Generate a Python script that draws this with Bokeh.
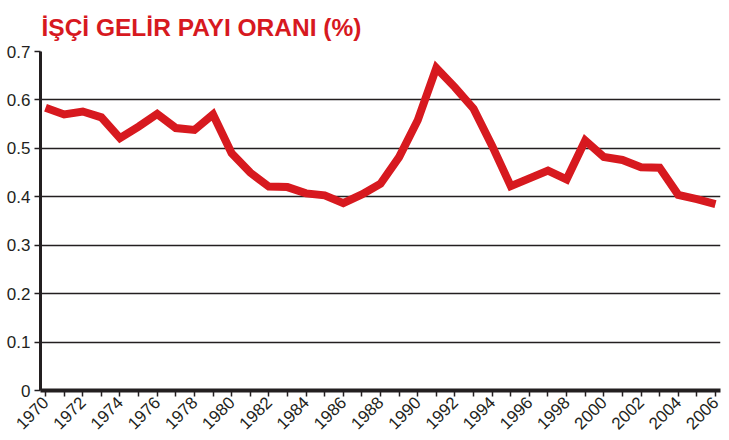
from bokeh.plotting import figure
from bokeh.models import FixedTicker, Range1d
from bokeh.embed import file_html
from bokeh.resources import INLINE
import math

# ---- data ----
years = list(range(1970, 2007))
share = [0.584, 0.570, 0.576, 0.564, 0.521, 0.545, 0.571, 0.542, 0.538, 0.570,
         0.490, 0.450, 0.421, 0.420, 0.407, 0.403, 0.387, 0.405, 0.427, 0.482,
         0.558, 0.666, 0.626, 0.582, 0.505, 0.422, 0.438, 0.454, 0.436, 0.516,
         0.482, 0.476, 0.461, 0.460, 0.404, 0.395, 0.385]
x_label_years = list(range(1970, 2007, 2))
x_minor_years = list(range(1971, 2007, 2))
y_ticks = [0, 0.1, 0.2, 0.3, 0.4, 0.5, 0.6, 0.7]
y_labels = ["0", "0.1", "0.2", "0.3", "0.4", "0.5", "0.6", "0.7"]
title_text = "İŞÇİ GELİR PAYI ORANI (%)"

RED = "#d7191f"
INK = "#231f20"
FONT = "Liberation Sans"

p = figure(width=721, height=437,
           min_border_left=40, min_border_right=1,
           min_border_top=51, min_border_bottom=47,
           x_range=Range1d(1969.73, 2006.27), y_range=Range1d(0, 0.7),
           output_backend="svg", toolbar_location=None,
           background_fill_color="white", border_fill_color="white")
p.outline_line_color = None

p.title.text = title_text
p.title.text_font = FONT
p.title.text_font_style = "bold"
p.title.text_font_size = "24.5px"
p.title.text_color = RED
p.title.align = "left"
p.title.offset = 1
p.title.standoff = 21

p.line(years, share, line_color=RED, line_width=8, line_join="miter")

# y axis
p.yaxis.ticker = FixedTicker(ticks=y_ticks)
p.yaxis.major_label_overrides = {t: l for t, l in zip(y_ticks, y_labels)}
p.yaxis.axis_line_color = INK
p.yaxis.axis_line_width = 3
p.yaxis.major_tick_line_color = INK
p.yaxis.major_tick_line_width = 1.5
p.yaxis.major_tick_in = 0
p.yaxis.major_tick_out = 6
p.yaxis.minor_tick_line_color = None
p.yaxis.major_label_text_font = FONT
p.yaxis.major_label_text_font_size = "17px"
p.yaxis.major_label_text_color = INK
p.yaxis.major_label_standoff = 4

# x axis
p.xaxis.ticker = FixedTicker(ticks=x_label_years, minor_ticks=x_minor_years)
p.xaxis.axis_line_color = INK
p.xaxis.axis_line_width = 4
p.xaxis.major_tick_line_color = INK
p.xaxis.major_tick_line_width = 1.5
p.xaxis.major_tick_in = 0
p.xaxis.major_tick_out = 6
p.xaxis.minor_tick_line_color = INK
p.xaxis.minor_tick_line_width = 1.5
p.xaxis.minor_tick_in = 0
p.xaxis.minor_tick_out = 6
p.xaxis.major_label_orientation = math.pi / 4
p.xaxis.major_label_text_font = FONT
p.xaxis.major_label_text_font_size = "17px"
p.xaxis.major_label_text_color = INK
p.xaxis.major_label_standoff = 3

# grid
p.xgrid.grid_line_color = None
p.ygrid.ticker = FixedTicker(ticks=y_ticks)
p.ygrid.grid_line_color = INK
p.ygrid.grid_line_width = 1.5

open("out.html", "w").write(file_html(p, INLINE))
